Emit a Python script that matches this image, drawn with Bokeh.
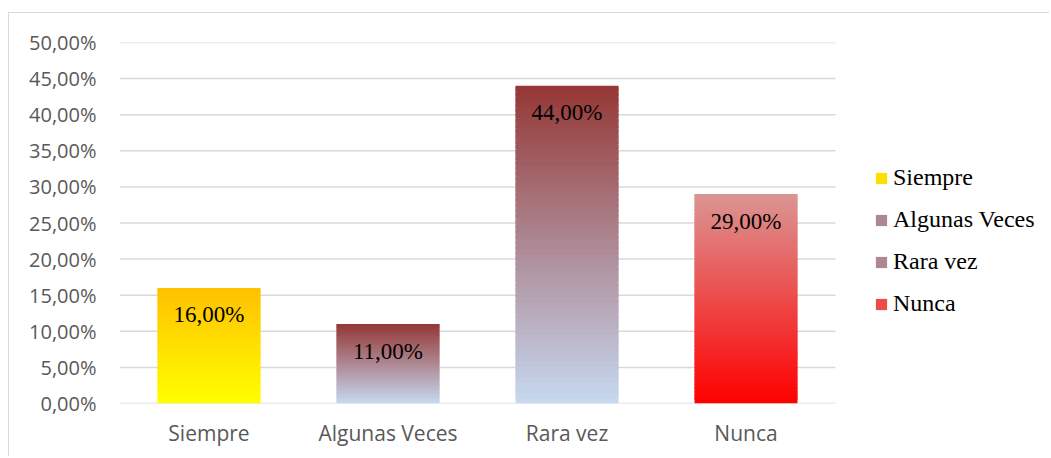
from bokeh.plotting import figure
from bokeh.models import (Range1d, FixedTicker, CustomJSTickFormatter,
                          Legend, LegendItem, ColumnDataSource)
from bokeh.core.properties import value
from bokeh.embed import file_html
from bokeh.resources import INLINE

# ---- data ----
categories = ["Siempre", "Algunas Veces", "Rara vez", "Nunca"]
percent = [16.0, 11.0, 44.0, 29.0]
top_colors = ["#FFC000", "#953735", "#953735", "#DA9694"]
bottom_colors = ["#FFFF00", "#C6D9F1", "#C6D9F1", "#FF0000"]
y_ticks = [0, 5, 10, 15, 20, 25, 30, 35, 40, 45, 50]

N_STRIPS = 60

# layout (pixels)
W, H = 1041, 444
LEFT, TOP, BOTTOM = 110, 29, 54
PLOT_AREA_W = 716          # width of the category area inside the frame
frame_w = W - LEFT


def hex_to_rgb(h):
    h = h.lstrip("#")
    return tuple(int(h[i:i + 2], 16) for i in (0, 2, 4))


def mix(c0, c1, t):
    a, b = hex_to_rgb(c0), hex_to_rgb(c1)
    return "#%02x%02x%02x" % tuple(round(a[k] + (b[k] - a[k]) * t) for k in range(3))


n = len(categories)
xpos = [i + 0.5 for i in range(n)]

p = figure(width=W, height=H, x_range=Range1d(0, n * frame_w / PLOT_AREA_W),
           y_range=Range1d(0, 50), output_backend="svg", toolbar_location=None,
           min_border_left=LEFT, min_border_right=0, min_border_top=TOP,
           min_border_bottom=BOTTOM)
p.outline_line_color = None
p.background_fill_color = "white"
p.border_fill_color = "white"
p.styles = {"border-left": "1px solid #d9d9d9", "border-top": "1px solid #d9d9d9",
            "margin-left": "8px", "margin-top": "12px"}

p.xgrid.grid_line_color = None
p.ygrid.grid_line_color = None

# horizontal gridlines across the category area only
p.segment(x0=[0] * len(y_ticks), x1=[n] * len(y_ticks), y0=y_ticks, y1=y_ticks,
          line_color="#d9d9d9", line_width=1.5)

bar_renderers = []
for xc, v, ct, cb in zip(xpos, percent, top_colors, bottom_colors):
    bottoms = [v * i / N_STRIPS for i in range(N_STRIPS)]
    tops = [min(v, v * (i + 1.8) / N_STRIPS) for i in range(N_STRIPS)]
    cols = [mix(cb, ct, (i + 0.5) / N_STRIPS) for i in range(N_STRIPS)]
    src = ColumnDataSource(dict(x=[xc] * N_STRIPS, bottom=bottoms, top=tops, color=cols))
    r = p.vbar(x="x", width=0.575, bottom="bottom", top="top", source=src,
               fill_color="color", line_color=None)
    bar_renderers.append(r)

labels = [("%.2f" % v).replace(".", ",") + "%" for v in percent]
p.text(x=xpos, y=percent, text=labels, y_offset=27, text_align="center",
       text_baseline="middle", text_font=value("Liberation Serif"),
       text_font_size="23px", text_color="black")

# axes
p.yaxis.ticker = FixedTicker(ticks=y_ticks)
p.yaxis.formatter = CustomJSTickFormatter(code="return tick.toFixed(2).replace('.', ',') + '%';")
p.yaxis.axis_line_color = None
p.yaxis.major_tick_line_color = None
p.yaxis.minor_tick_line_color = None
p.yaxis.major_tick_in = 0
p.yaxis.major_tick_out = 0
p.yaxis.major_label_standoff = 23
p.yaxis.major_label_text_font = "Open Sans"
p.yaxis.major_label_text_font_size = "20px"
p.yaxis.major_label_text_color = "#595959"

p.xaxis.ticker = FixedTicker(ticks=xpos, minor_ticks=[])
p.xaxis.major_label_overrides = {x: c for x, c in zip(xpos, categories)}
p.xaxis.axis_line_color = None
p.xaxis.major_tick_line_color = None
p.xaxis.minor_tick_line_color = None
p.xaxis.major_tick_in = 0
p.xaxis.major_tick_out = 0
p.xaxis.major_label_standoff = 15
p.xaxis.major_label_text_font = "Open Sans"
p.xaxis.major_label_text_font_size = "21px"
p.xaxis.major_label_text_color = "#595959"

items = [LegendItem(label=cat, renderers=[r], index=N_STRIPS // 2)
         for cat, r in zip(categories, bar_renderers)]
legend = Legend(items=items, location=(755, 86), padding=0, margin=0,
                border_line_alpha=0, background_fill_alpha=0,
                label_text_font="Liberation Serif", label_text_font_size="24px",
                label_text_color="black", glyph_width=14, glyph_height=14,
                label_standoff=5, spacing=15)
p.add_layout(legend, "center")

open("out.html", "w").write(file_html(p, INLINE))
